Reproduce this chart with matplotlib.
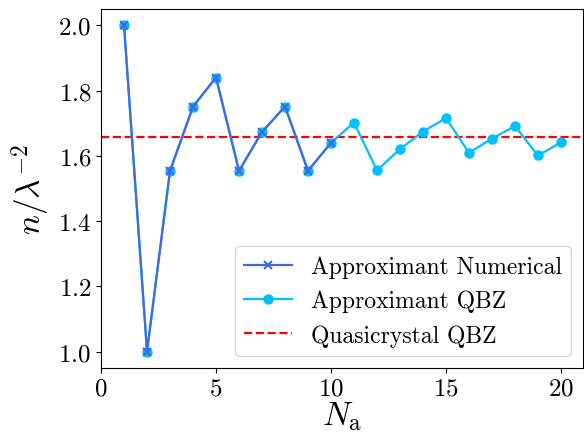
import matplotlib
matplotlib.use("Agg")
import matplotlib.pyplot as plt

plt.rcParams['font.family'] = 'serif'
plt.rcParams['font.serif'] = ['cmr10']
plt.rcParams['mathtext.fontset'] = 'cm'
plt.rcParams['axes.formatter.use_mathtext'] = True

# approximant sizes and densities
n_numerical = [1, 2, 3, 4, 5, 6, 7, 8, 9, 10]
dens_numerical = [2.0, 1.0, 1.554, 1.751, 1.840, 1.554, 1.673, 1.751, 1.554, 1.640]

n_qbz = list(range(1, 21))
dens_qbz = [2.0, 1.0, 1.554, 1.751, 1.840, 1.554, 1.673, 1.751, 1.554, 1.640,
            1.702, 1.555, 1.621, 1.674, 1.716, 1.609, 1.653, 1.691, 1.601, 1.641]

dens_quasicrystal = 1.657

fig = plt.figure(figsize=(5.84, 4.35), dpi=100)
ax = fig.add_axes([0.173, 0.152, 0.825, 0.825])

ax.plot(n_qbz, dens_qbz, '-o', color='deepskyblue', lw=1.6, ms=6.5,
        label='Approximant QBZ', zorder=2)
ax.plot(n_numerical, dens_numerical, '-x', color='royalblue', lw=1.6, ms=6,
        mew=1.5, label='Approximant Numerical', zorder=3)
ax.axhline(dens_quasicrystal, color='red', ls='--', lw=1.6,
           label='Quasicrystal QBZ', zorder=1)

ax.set_xlim(0, None)
ax.set_xticks([0, 5, 10, 15, 20])
ax.set_yticks([1.0, 1.2, 1.4, 1.6, 1.8, 2.0])
ax.tick_params(labelsize=18)
ax.set_xlabel(r'$N_\mathrm{a}$', fontsize=24, labelpad=0)
ax.set_ylabel(r'$n/\lambda^{-2}$', fontsize=24)

h, l = ax.get_legend_handles_labels()
order = [1, 0, 2]
ax.legend([h[i] for i in order], [l[i] for i in order], loc='lower right',
          fontsize=17)

fig.savefig('out.png', dpi=100)
